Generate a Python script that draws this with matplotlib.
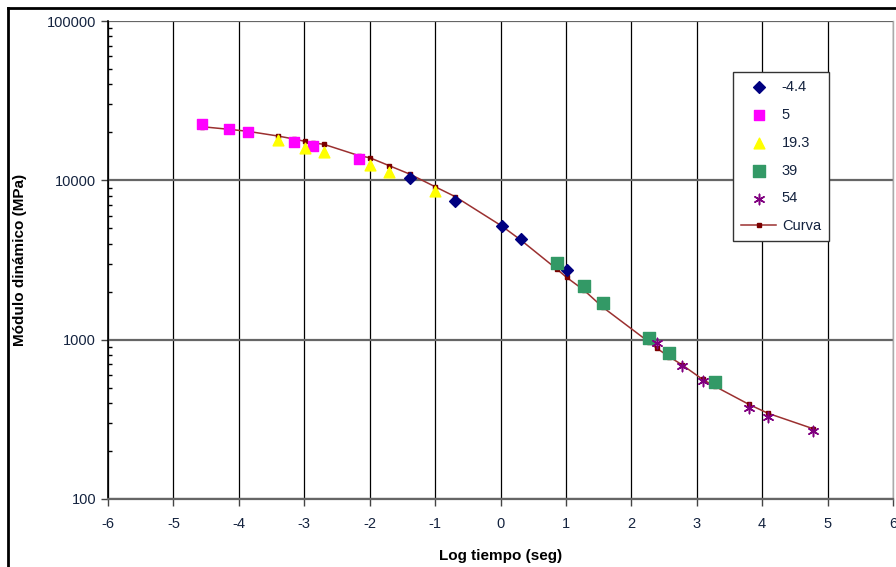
import matplotlib
matplotlib.use("Agg")
import matplotlib.pyplot as plt
from matplotlib.lines import Line2D
from matplotlib.ticker import LogLocator, FixedLocator, NullFormatter

plt.rcParams['font.family'] = ['Liberation Sans', 'DejaVu Sans']

# Data
x_m44 = [-1.38, -0.69, 0.02, 0.31, 1.01]
y_m44 = [10380, 7410, 5190, 4265, 2720]

x_5 = [-4.56, -4.15, -3.86, -3.16, -2.87, -2.16]
y_5 = [22560, 21090, 20010, 17470, 16350, 13610]

x_193 = [-3.40, -2.99, -2.70, -2.00, -1.70, -1.00]
y_193 = [17910, 16020, 15060, 12420, 11220, 8610]

x_39 = [0.86, 1.28, 1.56, 2.27, 2.58, 3.28]
y_39 = [3026, 2180, 1705, 1023, 828, 540]

x_54 = [2.39, 2.78, 3.09, 3.80, 4.09, 4.78]
y_54 = [956, 683, 547, 374, 328, 267]

curve_x = [-4.56, -4.15, -3.86, -3.40, -3.16, -2.99, -2.87, -2.70, -2.16, -2.00,
           -1.70, -1.38, -1.00, -0.69, 0.02, 0.31, 0.86, 1.01, 1.28, 1.56,
           2.27, 2.39, 2.58, 2.78, 3.09, 3.28, 3.80, 4.09, 4.78]
curve_y = [21700, 20900, 20300, 18970, 18170, 17570, 17200, 16830, 14270, 13870,
           12350, 10910, 9120, 7890, 5165, 4220, 2775, 2460, 2039, 1602,
           966, 882, 781, 693, 563, 509, 392, 345, 276]

x_ticks = list(range(-6, 7))
y_ticks = [100, 1000, 10000, 100000]
y_ticklabels = ['100', '1000', '10000', '100000']
series_labels = ['-4.4', '5', '19.3', '39', '54', 'Curva']

fig = plt.figure(figsize=(8.96, 5.67), dpi=100)
ax = fig.add_axes([108/896, 1-499/567, (893-108)/896, (499-21)/567])

ax.set_yscale('log')
ax.set_xlim(-6, 6)
ax.set_ylim(100, 100000)

# grid
for xv in x_ticks:
    ax.axvline(xv, color='black', lw=0.9, zorder=1)
for yv in y_ticks:
    ax.axhline(yv, color='#666666', lw=1.6, zorder=1)

tc = '#14233f'
ax.plot(curve_x, curve_y, color='#9b3030', lw=1.1, marker='s', ms=2.5,
        mfc='#7a0000', mec='#7a0000', zorder=3, label=series_labels[5])
ax.scatter(x_m44, y_m44, marker='D', s=36, color='#000080', zorder=4, label=series_labels[0])
ax.scatter(x_5, y_5, marker='s', s=42, color='#ff00ff', zorder=4, label=series_labels[1])
ax.scatter(x_193, y_193, marker='^', s=60, color='#ffff00', zorder=4, label=series_labels[2])
ax.scatter(x_39, y_39, marker='s', s=80, color='#339966', zorder=4, label=series_labels[3])
ax.scatter(x_54, y_54, marker=(6, 2, 0), s=55, color='#800080', linewidths=1.1, zorder=5, label=series_labels[4])

ax.xaxis.set_major_locator(FixedLocator(x_ticks))
ax.set_xticklabels([str(v) for v in x_ticks])
ax.yaxis.set_major_locator(FixedLocator(y_ticks))
ax.set_yticklabels(y_ticklabels)
ax.yaxis.set_minor_locator(LogLocator(base=10, subs=range(2, 10)))
ax.yaxis.set_minor_formatter(NullFormatter())
ax.tick_params(axis='both', which='major', direction='out', length=5, width=1,
               labelsize=10.5, labelcolor=tc, color='#444444')
ax.tick_params(axis='y', which='minor', direction='in', length=3, width=1, color='black')
ax.tick_params(axis='x', pad=8)

ax.spines['left'].set_color('black')
ax.spines['left'].set_linewidth(1.2)
ax.spines['bottom'].set_color('#666666')
ax.spines['bottom'].set_linewidth(1.6)
ax.spines['right'].set_color('#aaaaaa')
ax.spines['right'].set_linewidth(1.0)
ax.spines['top'].set_visible(False)

ax.set_xlabel('Log tiempo (seg)', fontsize=11, fontweight='bold', color='black', labelpad=13)
ax.set_ylabel('Módulo dinámico (MPa)', fontsize=11, fontweight='bold', color='black', labelpad=14)

handles, labels = ax.get_legend_handles_labels()
order = [1, 2, 3, 4, 5, 0]
leg = ax.legend([handles[i] for i in order], [labels[i] for i in order],
                loc='upper left', bbox_to_anchor=((733-108)/785, (499-72)/478),
                frameon=True, fancybox=False, edgecolor='#333333', framealpha=1,
                fontsize=10.5, labelspacing=0.95, handlelength=2.4, borderpad=0.55,
                handletextpad=0.4, borderaxespad=0)
leg._legend_box.align = 'left'
leg.get_frame().set_linewidth(1.0)
for t in leg.get_texts():
    t.set_color(tc)

# figure border (left and top)
fig.add_artist(Line2D([8/896, 8/896], [0, 1-8/567], color='black', lw=2, transform=fig.transFigure))
fig.add_artist(Line2D([8/896, 1], [1-8/567, 1-8/567], color='black', lw=2, transform=fig.transFigure))

fig.savefig('out.png', dpi=100)
